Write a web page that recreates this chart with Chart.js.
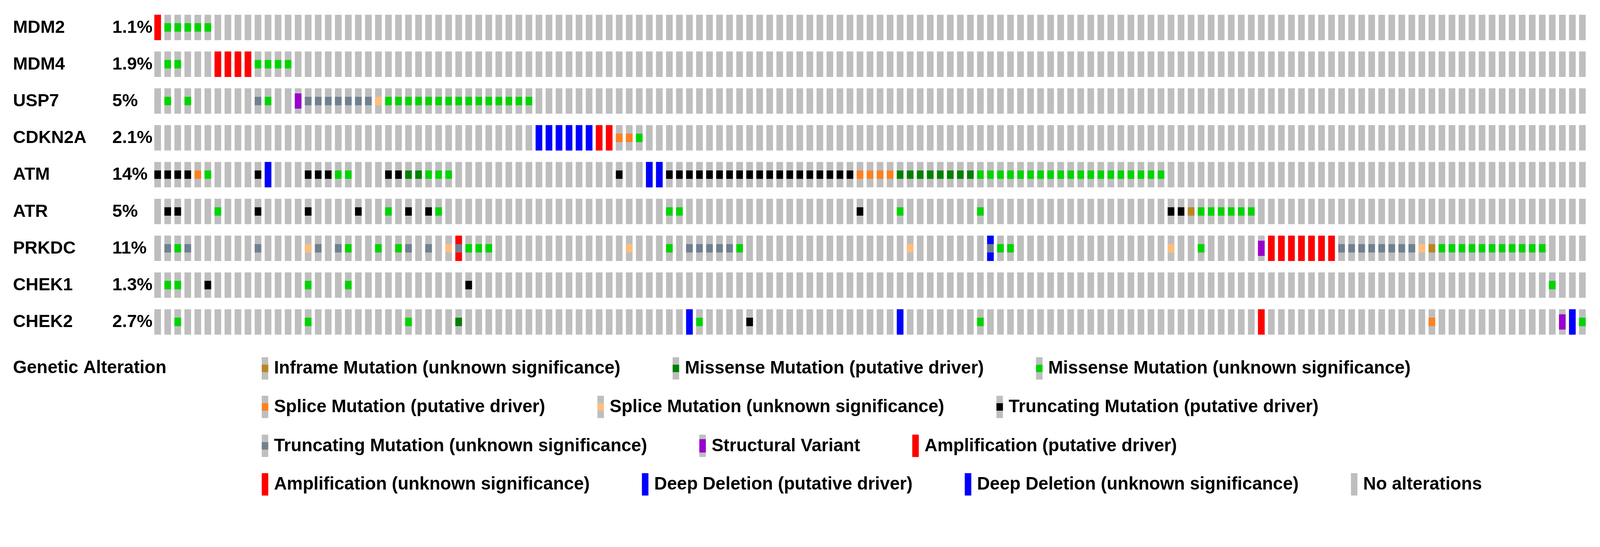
<!DOCTYPE html>
<html>
<head>
<meta charset="utf-8">
<script src="https://cdn.jsdelivr.net/npm/chart.js@4.4.0/dist/chart.umd.min.js"></script>
<style>
  html, body { margin: 0; padding: 0; background: #ffffff; overflow: hidden; }
  #wrap { position: relative; }
</style>
</head>
<body>
<div id="wrap"><canvas id="c"></canvas></div>
<script>
// ---------------- DATA ----------------
const genes    = ['MDM2', 'MDM4', 'USP7', 'CDKN2A', 'ATM', 'ATR', 'PRKDC', 'CHEK1', 'CHEK2'];
const percents = ['1.1%', '1.9%', '5%', '2.1%', '14%', '5%', '11%', '1.3%', '2.7%'];
const sampleCount = 143;   // altered samples shown as columns

// sample (column) indices, per gene and alteration type
const alt_MDM2 = {
  AMP:   [0],
  MIS_U: [1, 2, 3, 4, 5]
};
const alt_MDM4 = {
  MIS_U: [1, 2, 10, 11, 12, 13],
  AMP:   [6, 7, 8, 9]
};
const alt_USP7 = {
  MIS_U:    [1, 3, 11, 23, 24, 25, 26, 27, 28, 29, 30, 31, 32, 33, 34, 35, 36, 37],
  TRUNC_U:  [10, 15, 16, 17, 18, 19, 20, 21],
  SV:       [14],
  SPLICE_U: [22]
};
const alt_CDKN2A = {
  DEL:      [38, 39, 40, 41, 42, 43],
  AMP:      [44, 45],
  SPLICE_D: [46, 47],
  MIS_U:    [48]
};
const alt_ATM = {
  TRUNC_D:  [0, 1, 2, 3, 10, 15, 16, 17, 23, 24, 46, 51, 52, 53, 54, 55, 56, 57, 58, 59, 60, 61, 62, 63, 64, 65, 66, 67, 68, 69],
  SPLICE_D: [4, 70, 71, 72, 73],
  MIS_U:    [5, 18, 19, 27, 28, 29, 82, 83, 84, 85, 86, 87, 88, 89, 90, 91, 92, 93, 94, 95, 96, 97, 98, 99, 100],
  DEL:      [11, 49, 50],
  MIS_D:    [25, 26, 74, 75, 76, 77, 78, 79, 80, 81]
};
const alt_ATR = {
  TRUNC_D:   [1, 2, 10, 15, 20, 25, 27, 70, 101, 102],
  MIS_U:     [6, 23, 28, 51, 52, 74, 82, 104, 105, 106, 107, 108, 109],
  INFRAME_U: [103]
};
const alt_PRKDC = {
  TRUNC_U:   [1, 3, 10, 16, 18, 25, 27, 30, 53, 54, 55, 56, 57, 83, 118, 119, 120, 121, 122, 123, 124, 125],
  MIS_U:     [2, 19, 22, 24, 31, 32, 33, 51, 58, 84, 85, 104, 128, 129, 130, 131, 132, 133, 134, 135, 136, 137, 138],
  SPLICE_U:  [15, 29, 47, 75, 101, 126],
  AMP:       [30, 111, 112, 113, 114, 115, 116, 117],
  DEL:       [83],
  SV:        [110],
  INFRAME_U: [127]
};
const alt_CHEK1 = {
  MIS_U:   [1, 2, 15, 19, 139],
  TRUNC_D: [5, 31]
};
const alt_CHEK2 = {
  MIS_U:    [2, 15, 25, 54, 82, 142],
  MIS_D:    [30],
  DEL:      [53, 74, 141],
  TRUNC_D:  [59],
  AMP:      [110],
  SPLICE_D: [127],
  SV:       [140]
};
const alterations = [alt_MDM2, alt_MDM4, alt_USP7, alt_CDKN2A, alt_ATM, alt_ATR, alt_PRKDC, alt_CHEK1, alt_CHEK2];

// legend rows: [type, label]
const legendTitle = 'Genetic Alteration';
const legendRow1 = [['INFRAME_U', 'Inframe Mutation (unknown significance)'], ['MIS_D', 'Missense Mutation (putative driver)'], ['MIS_U', 'Missense Mutation (unknown significance)']];
const legendRow2 = [['SPLICE_D', 'Splice Mutation (putative driver)'], ['SPLICE_U', 'Splice Mutation (unknown significance)'], ['TRUNC_D', 'Truncating Mutation (putative driver)']];
const legendRow3 = [['TRUNC_U', 'Truncating Mutation (unknown significance)'], ['SV', 'Structural Variant'], ['AMP', 'Amplification (putative driver)']];
const legendRow4 = [['AMP_U', 'Amplification (unknown significance)'], ['DEL', 'Deep Deletion (putative driver)'], ['DEL_U', 'Deep Deletion (unknown significance)'], ['NONE', 'No alterations']];

// ---------------- STYLE ----------------
const COLORS = {
  INFRAME_U: '#b8861f', MIS_D: '#008000', MIS_U: '#00d400',
  SPLICE_D: '#ff8020', SPLICE_U: '#ffbe80', TRUNC_D: '#000000', TRUNC_U: '#708090',
  SV: '#9900cc', AMP: '#ff0000', AMP_U: '#ff0000', DEL: '#0000ff', DEL_U: '#0000ff', NONE: '#bebebe'
};
const LAYER = {
  AMP: 'cna', AMP_U: 'cna', DEL: 'cna', DEL_U: 'cna', SV: 'sv',
  INFRAME_U: 'mut', MIS_D: 'mut', MIS_U: 'mut', SPLICE_D: 'mut', SPLICE_U: 'mut', TRUNC_D: 'mut', TRUNC_U: 'mut'
};
const HALF = { cna: 0.345, sv: 0.207, mut: 0.115, bg: 0.345 };
const ORDER = { bg: 4, cna: 3, sv: 2, mut: 1 };
const FONT = '"Liberation Sans", Arial, Helvetica, sans-serif';

// layout is designed for a 4444 x 1400 picture; scale to the actual viewport width
const K = window.innerWidth / 4444;
const S = v => v * K;
const wrap = document.getElementById('wrap');
wrap.style.width = S(4444) + 'px';
wrap.style.height = S(1400) + 'px';

// ---------------- BUILD DATASETS ----------------
const samples = [];
for (let i = 0; i < sampleCount; i++) samples.push('S' + (i + 1));

const datasets = [];
genes.forEach((g, r) => {
  const bg = samples.map(() => [r - HALF.bg, r + HALF.bg]);
  datasets.push({ label: g + ' none', data: bg, backgroundColor: COLORS.NONE, order: ORDER.bg });
  ['cna', 'sv', 'mut'].forEach(layer => {
    const data = samples.map(() => null);
    const colors = samples.map(() => 'rgba(0,0,0,0)');
    const alt = alterations[r];
    Object.keys(alt).forEach(type => {
      if (LAYER[type] !== layer) return;
      alt[type].forEach(idx => {
        data[idx] = [r - HALF[layer], r + HALF[layer]];
        colors[idx] = COLORS[type];
      });
    });
    datasets.push({ label: g + ' ' + layer, data, backgroundColor: colors, order: ORDER[layer] });
  });
});

// ---------------- TEXT PLUGIN ----------------
const textPlugin = {
  id: 'oncoText',
  afterDraw(chart) {
    const ctx = chart.ctx;
    const ys = chart.scales.y;
    ctx.save();
    ctx.fillStyle = '#000';
    ctx.textBaseline = 'middle';
    ctx.textAlign = 'left';
    ctx.font = 'bold ' + S(49) + 'px ' + FONT;
    genes.forEach((g, r) => {
      const py = ys.getPixelForValue(r) + S(1);
      ctx.fillText(g, S(36), py);
      ctx.fillText(percents[r], S(312), py);
    });

    // legend
    const rowCenters = [1023, 1130, 1238, 1345];
    ctx.font = 'bold ' + S(49.5) + 'px ' + FONT;
    ctx.fillText(legendTitle, S(36), S(rowCenters[0]));
    const rows = [legendRow1, legendRow2, legendRow3, legendRow4];
    const swW = S(18), swH = S(62);
    rows.forEach((row, ri) => {
      const cy = S(rowCenters[ri]);
      let x = S(727);
      row.forEach(([type, label]) => {
        const top = cy - swH / 2;
        ctx.fillStyle = COLORS.NONE;
        ctx.fillRect(x, top, swW, swH);
        const layer = LAYER[type];
        if (layer) {
          const frac = layer === 'cna' ? 0.5 : (layer === 'sv' ? 0.3 : 1 / 6);
          ctx.fillStyle = COLORS[type];
          ctx.fillRect(x, cy - swH * frac, swW, swH * frac * 2);
        }
        ctx.fillStyle = '#000';
        ctx.fillText(label, x + S(34), cy + S(1));
        x = x + S(34) + ctx.measureText(label).width + S(145);
      });
    });
    ctx.restore();
  }
};

// ---------------- CHART ----------------
new Chart(document.getElementById('c'), {
  type: 'bar',
  data: { labels: samples, datasets },
  options: {
    responsive: true,
    maintainAspectRatio: false,
    animation: false,
    layout: { padding: { left: S(424), right: S(35), top: S(25), bottom: S(455) } },
    plugins: { legend: { display: false }, tooltip: { enabled: false } },
    datasets: {
      bar: { grouped: false, categoryPercentage: 1, barPercentage: 0.664, borderWidth: 0, borderSkipped: false }
    },
    scales: {
      x: { type: 'category', display: false, offset: true, grid: { display: false } },
      y: { type: 'linear', display: false, min: -0.5, max: 8.5, reverse: true, grid: { display: false } }
    }
  },
  plugins: [textPlugin]
});
</script>
</body>
</html>
